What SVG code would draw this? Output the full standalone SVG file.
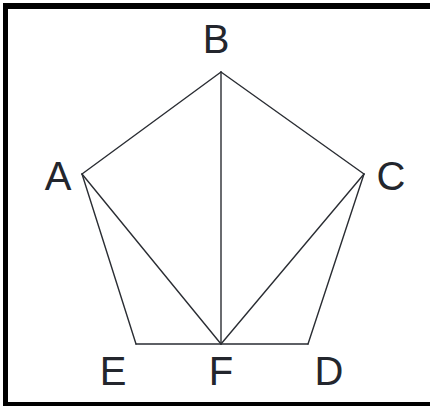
<svg xmlns="http://www.w3.org/2000/svg" width="430" height="406" viewBox="0 0 430 406">
<style>
.edge{stroke:#2a2d33;stroke-width:1.4;fill:none;stroke-linecap:round}
.lbl{font-family:"Liberation Sans",Arial,sans-serif;font-size:40px;fill:#23262d;text-anchor:middle}
</style>
<rect width="430" height="406" fill="#fff"/>
<g id="frame" fill="#000">
<rect x="3" y="3" width="427" height="6"/>
<rect x="3" y="3" width="5" height="403"/>
<rect x="3" y="402" width="427" height="4"/>
</g>
<g id="connectors">
<line class="edge" x1="221" y1="72" x2="82" y2="174"/>
<line class="edge" x1="221" y1="72" x2="364" y2="174"/>
<line class="edge" x1="221" y1="72" x2="221" y2="344"/>
<line class="edge" x1="82" y1="174" x2="221" y2="344"/>
<line class="edge" x1="364" y1="174" x2="221" y2="344"/>
<line class="edge" x1="82" y1="174" x2="136" y2="344"/>
<line class="edge" x1="364" y1="174" x2="308" y2="344"/>
<line class="edge" x1="136" y1="344" x2="308" y2="344"/>
</g>
<g id="node-B"><text class="lbl" x="216" y="53">B</text></g>
<g id="node-A"><text class="lbl" x="58" y="190">A</text></g>
<g id="node-C"><text class="lbl" x="391" y="190">C</text></g>
<g id="node-E"><text class="lbl" x="113" y="385">E</text></g>
<g id="node-F"><text class="lbl" x="221" y="385">F</text></g>
<g id="node-D"><text class="lbl" x="329" y="385">D</text></g>
</svg>
